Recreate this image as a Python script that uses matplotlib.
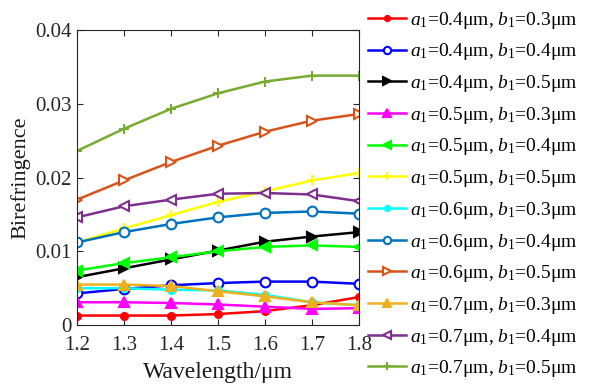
import matplotlib
matplotlib.use("Agg")
import matplotlib.pyplot as plt

plt.rcParams['font.family'] = 'Liberation Serif'
plt.rcParams['mathtext.fontset'] = 'custom'
plt.rcParams['mathtext.rm'] = 'Liberation Serif'
plt.rcParams['mathtext.it'] = 'Liberation Serif:italic'

wavelength = [1.2, 1.3, 1.4, 1.5, 1.6, 1.7, 1.8]

a04_b03 = [0.0013, 0.0013, 0.0013, 0.0015, 0.0019, 0.0027, 0.0038]
a04_b04 = [0.0043, 0.0049, 0.0054, 0.0057, 0.0059, 0.0059, 0.0056]
a04_b05 = [0.0065, 0.0077, 0.0089, 0.0101, 0.0113, 0.0120, 0.0126]
a05_b03 = [0.0031, 0.0031, 0.0030, 0.0028, 0.0025, 0.0022, 0.0023]
a05_b04 = [0.0074, 0.0084, 0.0092, 0.0100, 0.0106, 0.0108, 0.0106]
a05_b05 = [0.0112, 0.0131, 0.0149, 0.0167, 0.0181, 0.0196, 0.0206]
a06_b03 = [0.0050, 0.0050, 0.0048, 0.0047, 0.0041, 0.0031, 0.0027]
a06_b04 = [0.0112, 0.0126, 0.0137, 0.0146, 0.0152, 0.0154, 0.0151]
a06_b05 = [0.0170, 0.0196, 0.0221, 0.0243, 0.0262, 0.0277, 0.0286]
a07_b03 = [0.0055, 0.0055, 0.0053, 0.0046, 0.0039, 0.0031, 0.0027]
a07_b04 = [0.0146, 0.0161, 0.0170, 0.0178, 0.0179, 0.0177, 0.0168]
a07_b05 = [0.0236, 0.0266, 0.0293, 0.0314, 0.0330, 0.0338, 0.0338]

labels = [r'$a_1$=0.%dμm, $b_1$=0.%dμm' % (a, b)
          for a in (4, 5, 6, 7) for b in (3, 4, 5)]

# (data, colour, marker, filled)
series = [
    (a04_b03, (1, 0, 0), '.', True),
    (a04_b04, (0, 0, 1), 'o', False),
    (a04_b05, (0, 0, 0), '>', True),
    (a05_b03, (1, 0, 1), '^', True),
    (a05_b04, (0, 1, 0), '<', True),
    (a05_b05, (1, 1, 0), '+', True),
    (a06_b03, (0, 1, 1), '.', True),
    (a06_b04, (0, 0.447, 0.741), 'o', False),
    (a06_b05, (0.85, 0.325, 0.098), '>', False),
    (a07_b03, (0.929, 0.694, 0.125), '^', True),
    (a07_b04, (0.494, 0.184, 0.556), '<', False),
    (a07_b05, (0.466, 0.674, 0.188), '+', True),
]

fig = plt.figure(figsize=(5.92, 3.88), dpi=100)
ax = fig.add_axes([0.130, 0.162, 0.476, 0.761])

for (vals, col, mk, filled), lab in zip(series, labels):
    ms = 10 if mk == '.' else 7
    ax.plot(wavelength, vals, color=col, marker=mk, markersize=ms,
            linewidth=1.8, markeredgewidth=1.5,
            markerfacecolor=col if filled else 'white', label=lab)

ax.set_xlim(1.2, 1.8)
ax.set_ylim(0, 0.04)
ax.set_xticks(wavelength)
ax.set_yticks([0, 0.01, 0.02, 0.03, 0.04])
ax.set_yticklabels(['0', '0.01', '0.02', '0.03', '0.04'])
ax.tick_params(direction='in', top=True, right=True, labelsize=15,
               colors='0.15', length=4)
ax.tick_params(axis='x', pad=8)
for sp in ax.spines.values():
    sp.set_color('0.15')
    sp.set_linewidth(0.8)
ax.set_xlabel('Wavelength/μm', fontsize=17, color='0.1', labelpad=5)
ax.set_ylabel('Birefringence', fontsize=16, color='0.1', labelpad=4)

ax.legend(loc='upper left', bbox_to_anchor=(0.99, 1.108), frameon=False,
          fontsize=14, handlelength=2.0, handletextpad=0.2,
          labelspacing=0.55, borderaxespad=0.2, markerscale=0.75)

fig.savefig('out.png', dpi=100)
